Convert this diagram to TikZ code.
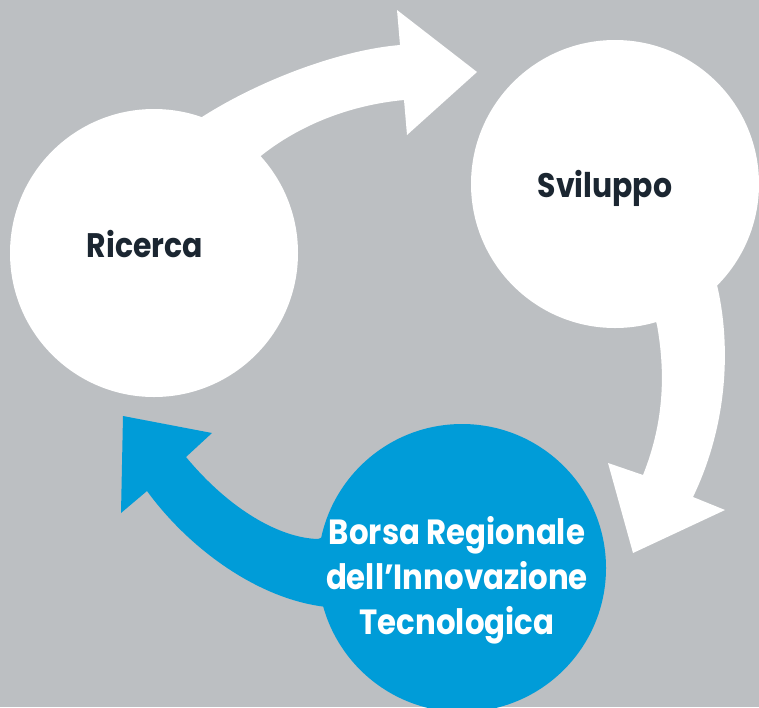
\documentclass[tikz,border=0pt]{standalone}
\usepackage{fontspec}
\setmainfont{Poppins}[FakeStretch=0.88]
\definecolor{bg}{RGB}{188,191,194}
\definecolor{bblue}{RGB}{0,156,216}
\definecolor{ink}{RGB}{27,38,49}
\begin{document}
\begin{tikzpicture}[x=1pt,y=-1pt,
  bubble/.style={circle, minimum size=288pt, inner sep=0pt, draw=none},
  lbl/.style={font=\bfseries\fontsize{34}{42}\selectfont, text=ink, inner sep=0pt},
  blbl/.style={font=\bfseries\fontsize{35}{45}\selectfont, text=white, inner sep=0pt, align=center}]
\fill[bg] (0,0) rectangle (759,707);
\useasboundingbox (0,0) rectangle (759,707);
\clip (0,0) rectangle (759,707);
% arrows
\fill[white] (180,135) -- (202,117) .. controls (260,80) and (340,50) .. (400,45)
  -- (397,10) -- (477,72) -- (407,135) -- (404,100)
  .. controls (350,105) and (300,125) .. (262,155) -- (240,175) -- cycle;
\fill[white] (700,260) -- (717,285) .. controls (730,340) and (730,420) .. (693,497)
  -- (725,510) -- (633,553) -- (608,463) -- (643,475)
  .. controls (665,420) and (665,370) .. (657,325) -- (650,300) -- cycle;
\fill[bblue] (340,530) -- (318,539) .. controls (280,538) and (230,510) .. (186,457)
  -- (212,433) -- (123,416) -- (121,513) -- (147,491)
  .. controls (190,550) and (260,600) .. (327,607) -- (345,600) -- cycle;
% circles
\node[bubble, fill=white] (ric) at (154,253) {};
\node[bubble, fill=white] (svi) at (615,184) {};
\node[bubble, fill=bblue] (bor) at (462,568) {};
% texts
\node[lbl, anchor=base] (tric) at (145,257) {Ricerca};
\node[lbl, anchor=base] (tsvi) at (605,197) {Sviluppo};
\node[blbl, anchor=center] (tbor) at (457,580) {Borsa Regionale\\dell’Innovazione\\Tecnologica};
\end{tikzpicture}
\end{document}
